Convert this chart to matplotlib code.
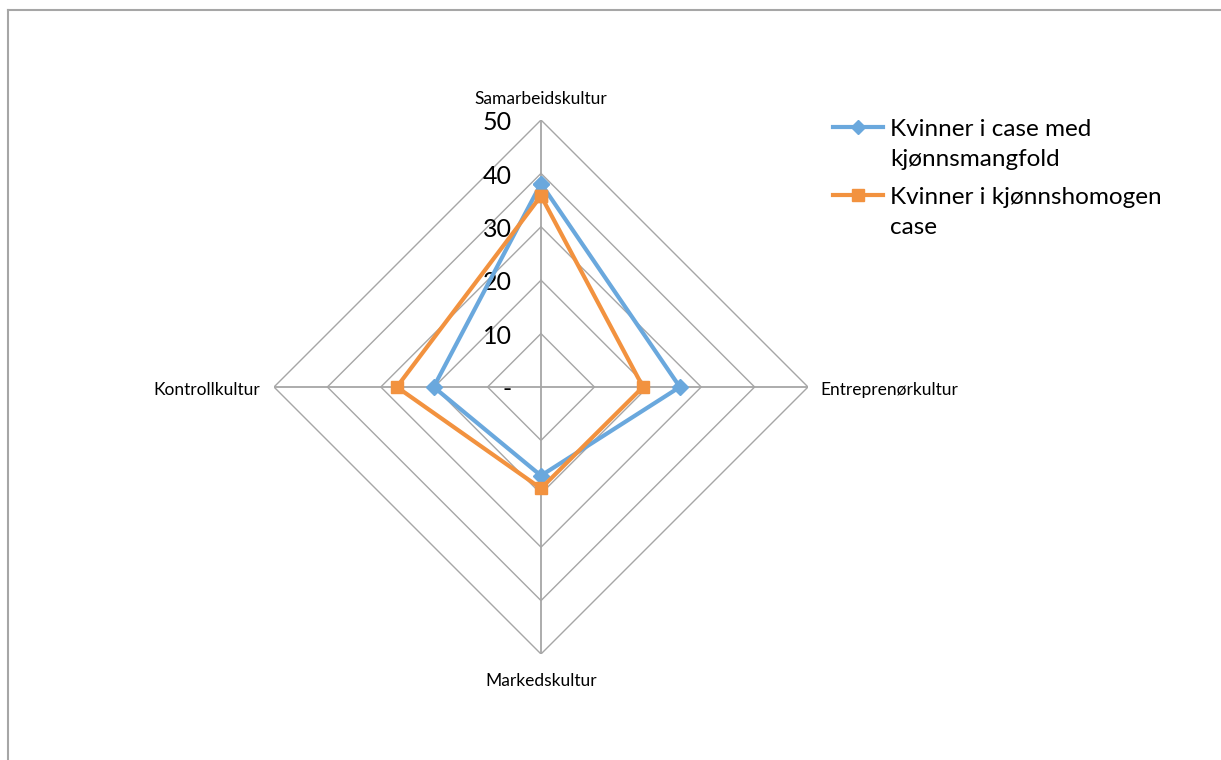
import numpy as np
import matplotlib
matplotlib.use("Agg")
import matplotlib.pyplot as plt
from matplotlib.lines import Line2D

plt.rcParams['font.family'] = ['Lato', 'DejaVu Sans']

categories = ["Samarbeidskultur", "Entreprenørkultur", "Markedskultur", "Kontrollkultur"]
series_names = ["Kvinner i case med\nkjønnsmangfold", "Kvinner i kjønnshomogen\ncase"]
mangfold = [38.1, 26.0, 16.6, 20.1]
homogen = [35.8, 19.1, 19.0, 27.0]
r_ticks = [0, 10, 20, 30, 40, 50]
r_labels = ["-", "10", "20", "30", "40", "50"]

blue = "#6AA8DD"
orange = "#F2923F"
grid_col = "#A6A6A6"

W, H = 1221, 760
fig = plt.figure(figsize=(W / 100, H / 100), dpi=100)

# centre at (541, 387) px, radius 267 px
cx, cy, rad = 541, 387, 267
ax = fig.add_axes([(cx - rad) / W, (H - cy - rad) / H, 2 * rad / W, 2 * rad / H],
                  projection="polar")
ax.set_theta_offset(np.pi / 2)
ax.set_theta_direction(-1)
ax.set_ylim(0, 50)
ax.grid(False)
ax.spines["polar"].set_visible(False)
ax.set_xticks([])
ax.set_yticks([])
ax.patch.set_alpha(0)

n = len(categories)
angles = np.arange(n) * 2 * np.pi / n
closed = np.append(angles, angles[0])

# polygon gridlines and spokes
for r in r_ticks[1:]:
    ax.plot(closed, [r] * (n + 1), color=grid_col, lw=1, zorder=1)
for a in angles:
    ax.plot([a, a], [0, 50], color=grid_col, lw=1.3, zorder=1)

# radial tick labels
for r, lbl in zip(r_ticks, r_labels):
    ax.annotate(lbl, xy=(0, r), xytext=(-21, -2), textcoords="offset points",
                ha="right", va="center", fontsize=18, color="black")

# category labels
offsets = [((0, 9), "center", "bottom"), ((9, -2), "left", "center"),
           ((0, -14), "center", "top"), ((-10, -2), "right", "center")]
for a, name, (off, ha, va) in zip(angles, categories, offsets):
    ax.annotate(name, xy=(a, 50), xytext=off, textcoords="offset points",
                ha=ha, va=va, fontsize=12.5, color="black")

lines = []
lines.append(ax.plot(closed, mangfold + mangfold[:1], color=blue, lw=3, marker="D",
                     markersize=8, zorder=3, clip_on=False)[0])
lines.append(ax.plot(closed, homogen + homogen[:1], color=orange, lw=3, marker="s",
                     markersize=9, zorder=4, clip_on=False)[0])

# legend, drawn by hand so the handle sits on the first text line
leg_y = [127, 195]
for ln, name, y in zip(lines, series_names, leg_y):
    yf = 1 - y / H
    fig.add_artist(Line2D([833 / W, 883 / W], [yf, yf], color=ln.get_color(), lw=3))
    fig.add_artist(Line2D([858 / W], [yf], color=ln.get_color(), marker=ln.get_marker(),
                          markersize=ln.get_markersize() - 1))
    for k, part in enumerate(name.split("\n")):
        fig.text(890 / W, 1 - (y + 31 * k) / H, part, fontsize=17.5,
                 ha="left", va="center_baseline")

# partial frame (top and left)
fig.add_artist(Line2D([8 / W, 8 / W], [0, 1 - 10 / H], color=grid_col, lw=1.5))
fig.add_artist(Line2D([8 / W, 1], [1 - 10 / H, 1 - 10 / H], color=grid_col, lw=1.5))

fig.savefig("out.png", dpi=100, facecolor="white")
